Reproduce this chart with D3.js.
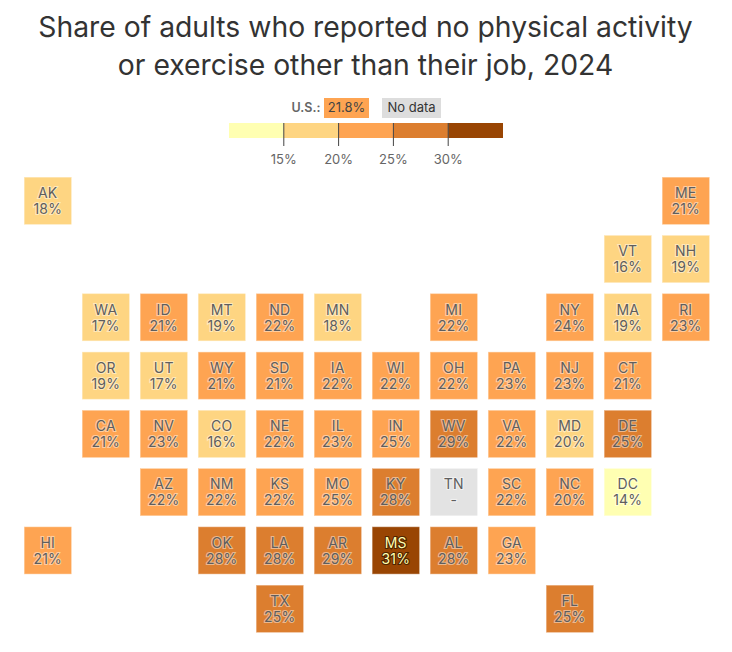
<!DOCTYPE html>
<html><head><meta charset="utf-8">
<script src="https://cdn.jsdelivr.net/npm/d3@7"></script>
<style>
html,body{margin:0;padding:0;background:#fff}
svg{display:block}
text{font-family:Inter,"Noto Sans",sans-serif}
</style></head><body>
<svg id="chart" width="732" height="652"></svg>
<script>
const titleLines = ["Share of adults who reported no physical activity","or exercise other than their job, 2024"];
const states = ["AK","ME","VT","NH","WA","ID","MT","ND","MN","MI","NY","MA","RI","OR","UT","WY","SD","IA","WI","OH","PA","NJ","CT","CA","NV","CO","NE","IL","IN","WV","VA","MD","DE","AZ","NM","KS","MO","KY","TN","SC","NC","DC","HI","OK","LA","AR","MS","AL","GA","TX","FL"];
const gridCols = [0,11,10,11,1,2,3,4,5,7,9,10,11,1,2,3,4,5,6,7,8,9,10,1,2,3,4,5,6,7,8,9,10,2,3,4,5,6,7,8,9,10,0,3,4,5,6,7,8,4,9];
const gridRows = [0,0,1,1,2,2,2,2,2,2,2,2,2,3,3,3,3,3,3,3,3,3,3,4,4,4,4,4,4,4,4,4,4,5,5,5,5,5,5,5,5,5,6,6,6,6,6,6,6,7,7];
const values = [18,21,16,19,17,21,19,22,18,22,24,19,23,19,17,21,21,22,22,22,23,23,21,21,23,16,22,23,24.8,29,22,19.8,25.2,22,22,22,24.9,28,null,22,20.2,14,21,28,28,29,31,28,23,25.3,25.4];
const thresholds = [15,20,25,30];
const palette = ["#FFFFB2","#FED582","#FEA452","#DC7E2F","#994503"];
const legendTicks = [15,20,25,30];
const usValue = 21.8;

const svg = d3.select("#chart");
const color = d3.scaleThreshold().domain(thresholds).range(palette);
const lighten = (c,t) => d3.interpolateRgb(c,"#fff")(t);

svg.selectAll("text.title").data(titleLines).join("text")
  .attr("class","title").attr("x",365.5).attr("y",(d,i)=>37+i*38)
  .attr("text-anchor","middle").attr("font-size",28.3).attr("fill","#333")
  .text(d=>d);

// legend
const lx = d3.scaleLinear().domain([10,35]).range([229,503]);
const edges = [10,15,20,25,30,35];
const lg = svg.append("g");
lg.selectAll("rect").data(palette).join("rect")
  .attr("x",(d,i)=>lx(edges[i])).attr("y",123).attr("height",15)
  .attr("width",(d,i)=>lx(edges[i+1])-lx(edges[i])).attr("fill",d=>d);
lg.selectAll("line").data(legendTicks).join("line")
  .attr("x1",d=>lx(d)).attr("x2",d=>lx(d)).attr("y1",123).attr("y2",146)
  .attr("stroke","#444").attr("stroke-width",1);
lg.selectAll("text").data(legendTicks).join("text")
  .attr("x",d=>lx(d)).attr("y",164).attr("text-anchor","middle")
  .attr("font-size",13).attr("fill","#666").text(d=>d+"%");

svg.append("text").attr("x",291.5).attr("y",112).attr("font-size",12.5).attr("font-weight",600).attr("fill","#666").text("U.S.:");
svg.append("rect").attr("x",324).attr("y",98).attr("width",45).attr("height",20).attr("fill",color(usValue));
svg.append("text").attr("x",346.5).attr("y",112).attr("text-anchor","middle").attr("font-size",13).attr("fill","#444").text(usValue+"%");
svg.append("rect").attr("x",382).attr("y",98).attr("width",59).attr("height",20).attr("fill","#ddd");
svg.append("text").attr("x",411.5).attr("y",112).attr("text-anchor","middle").attr("font-size",13).attr("fill","#333").text("No data");

// tiles
const x = d3.scaleLinear().domain([0,11]).range([24,662]);
const y = d3.scaleLinear().domain([0,7]).range([177,585]);
const size = 47.5;
const fillOf = i => values[i]==null ? "#E3E3E3" : color(values[i]);
const dark = i => values[i] >= 30;
const tiles = svg.selectAll("g.tile").data(states).join("g").attr("class","tile")
  .attr("transform",(d,i)=>`translate(${x(gridCols[i])},${y(gridRows[i])})`);
tiles.append("rect").attr("x",0.25).attr("y",0.25).attr("width",size-0.5).attr("height",size-0.5)
  .attr("fill",(d,i)=>fillOf(i)).attr("stroke",(d,i)=>lighten(fillOf(i),0.45)).attr("stroke-width",0.5);
const label = (yy, fn) => tiles.append("text").attr("x",size/2).attr("y",yy).attr("text-anchor","middle")
  .attr("font-size",14).attr("letter-spacing",0.2)
  .attr("fill",(d,i)=>dark(i)?"#FFFFB2":"#5e5e5e")
  .attr("stroke",(d,i)=>dark(i)?"#4f2400":lighten(fillOf(i),0.45))
  .attr("stroke-width",2.2).attr("paint-order","stroke").text(fn);
label(21,d=>d);
label(37,(d,i)=>values[i]==null?"-":Math.round(values[i])+"%");
</script></body></html>
